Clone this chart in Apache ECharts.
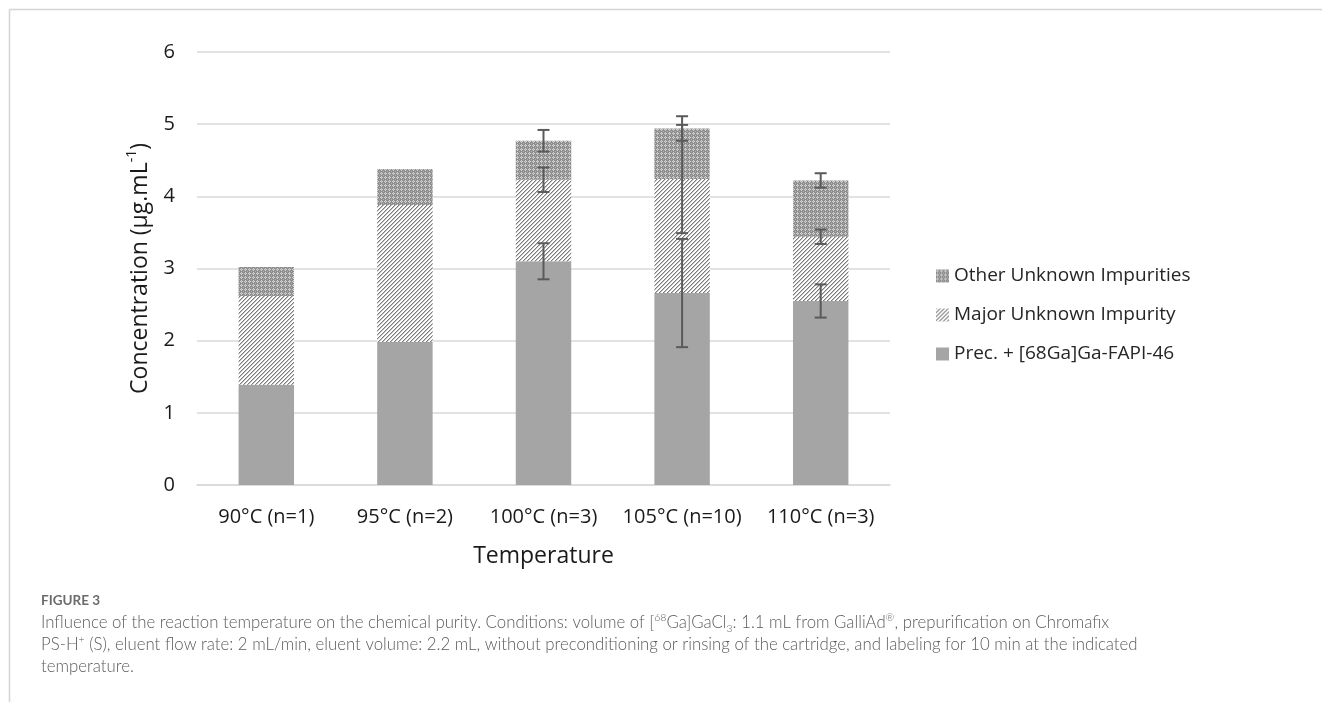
<!DOCTYPE html>
<html>
<head>
<meta charset="utf-8">
<script src="https://cdn.jsdelivr.net/npm/echarts@6/dist/echarts.min.js"></script>
<style>
html,body{margin:0;padding:0;background:#fff;}
#chart{width:1322px;height:702px;}
</style>
</head>
<body>
<div id="chart"></div>
<script>
// ---- data ----
const categories = ['90°C (n=1)', '95°C (n=2)', '100°C (n=3)', '105°C (n=10)', '110°C (n=3)'];
const seriesNames = ['Prec. + [68Ga]Ga-FAPI-46', 'Major Unknown Impurity', 'Other Unknown Impurities'];
const precValues  = [1.39, 1.98, 3.10, 2.66, 2.55];
const majorValues = [1.23, 1.90, 1.13, 1.58, 0.89];
const otherValues = [0.40, 0.50, 0.54, 0.70, 0.78];
const precErr  = [null, null, 0.25, 0.75, 0.23];
const majorErr = [null, null, 0.17, 0.75, 0.10];
const otherErr = [null, null, 0.15, 0.17, 0.10];
const yTicks = [0, 1, 2, 3, 4, 5, 6];

// ---- patterns ----
function makeTile(size, painter) {
  const c = document.createElement('canvas');
  c.width = size; c.height = size;
  const ctx = c.getContext('2d');
  painter(ctx, size);
  return c;
}
const hatchTile = makeTile(4, (ctx, n) => {
  ctx.fillStyle = '#ffffff'; ctx.fillRect(0, 0, n, n);
  for (let x = 0; x < n; x++) for (let y = 0; y < n; y++) {
    const k = (x + y) % 4;
    if (k === 3) { ctx.fillStyle = '#7a7a7a'; ctx.fillRect(x, y, 1, 1); }
    else if (k === 0) { ctx.fillStyle = '#c4c4c4'; ctx.fillRect(x, y, 1, 1); }
  }
});
const checkTile = makeTile(4, (ctx, n) => {
  const map = [
    'DLDD',
    'LMLD',
    'DLDD',
    'DDDM'
  ];
  const col = {D: '#8e8e8e', L: '#d2d2d2', M: '#b2b2b2'};
  for (let y = 0; y < n; y++) for (let x = 0; x < n; x++) {
    ctx.fillStyle = col[map[y][x]]; ctx.fillRect(x, y, 1, 1);
  }
});
const precColor = '#a5a5a5';
const hatchColor = {image: hatchTile, repeat: 'repeat'};
const checkColor = {image: checkTile, repeat: 'repeat'};

// ---- error bar data (built from arrays) ----
function errData(errs, stackedTops) {
  const out = [];
  errs.forEach((e, i) => {
    if (e !== null) out.push([i, stackedTops[i] - e, stackedTops[i] + e]);
  });
  return out;
}
const precTop = precValues.slice();
const majorTop = precValues.map((v, i) => v + majorValues[i]);
const otherTop = majorTop.map((v, i) => v + otherValues[i]);
const errorData = [].concat(
  errData(precErr, precTop),
  errData(majorErr, majorTop),
  errData(otherErr, otherTop)
);

const chart = echarts.init(document.getElementById('chart'), null, {renderer: 'canvas'});
const axisFont = "'Open Sans', 'Noto Sans', sans-serif";
const capFont = "Lato, 'Open Sans', sans-serif";

const option = {
  backgroundColor: '#ffffff',
  animation: false,
  grid: {left: 197, top: 52, width: 693, height: 433, outerBoundsMode: 'none', containLabel: false},
  legend: {
    orient: 'vertical',
    left: 931,
    top: 261,
    itemWidth: 13,
    itemHeight: 13,
    itemGap: 19,
    icon: 'rect',
    selectedMode: false,
    data: [seriesNames[2], seriesNames[1], seriesNames[0]],
    textStyle: {fontFamily: axisFont, fontSize: 19, color: '#262626', lineHeight: 20, padding: [0, 0, 0, 0]}
  },
  xAxis: {
    type: 'category',
    data: categories,
    name: 'Temperature',
    nameLocation: 'middle',
    nameGap: 60,
    nameTextStyle: {fontFamily: axisFont, fontSize: 23, color: '#1a1a1a'},
    axisLine: {lineStyle: {color: '#d9d9d9', width: 1.5}},
    axisTick: {show: false},
    axisLabel: {fontFamily: axisFont, fontSize: 20, color: '#1a1a1a', margin: 22, interval: 0, hideOverlap: false}
  },
  yAxis: {
    type: 'value',
    min: yTicks[0],
    max: yTicks[yTicks.length - 1],
    interval: 1,
    name: '{t|Concentration (µg.mL}{s|-1}{t|)}',
    nameLocation: 'middle',
    nameRotate: 90,
    nameGap: 42,
    nameTextStyle: {
      rich: {
        t: {fontFamily: axisFont, fontSize: 23, color: '#1a1a1a', lineHeight: 30},
        s: {fontFamily: axisFont, fontSize: 14, color: '#1a1a1a', lineHeight: 14, verticalAlign: 'top'}
      }
    },
    axisLine: {show: false},
    axisTick: {show: false},
    splitLine: {lineStyle: {color: '#d9d9d9', width: 1.5}},
    axisLabel: {fontFamily: axisFont, fontSize: 20, color: '#1a1a1a', margin: 22}
  },
  series: [
    {name: seriesNames[0], type: 'bar', stack: 'total', barWidth: '40%', data: precValues,
     itemStyle: {color: precColor}},
    {name: seriesNames[1], type: 'bar', stack: 'total', barWidth: '40%', data: majorValues,
     itemStyle: {color: hatchColor}},
    {name: seriesNames[2], type: 'bar', stack: 'total', barWidth: '40%', data: otherValues,
     itemStyle: {color: checkColor}},
    {
      name: 'error', type: 'custom', z: 10,
      data: errorData,
      encode: {x: 0, y: [1, 2]},
      renderItem: function (params, api) {
        const lo = api.coord([api.value(0), api.value(1)]);
        const hi = api.coord([api.value(0), api.value(2)]);
        const hw = 6;
        const st = {stroke: '#5a5a5a', lineWidth: 2};
        return {
          type: 'group',
          children: [
            {type: 'line', shape: {x1: lo[0], y1: lo[1], x2: hi[0], y2: hi[1]}, style: st},
            {type: 'line', shape: {x1: lo[0] - hw, y1: lo[1], x2: lo[0] + hw, y2: lo[1]}, style: st},
            {type: 'line', shape: {x1: hi[0] - hw, y1: hi[1], x2: hi[0] + hw, y2: hi[1]}, style: st}
          ]
        };
      }
    }
  ],
  graphic: [
    {type: 'line', shape: {x1: 9.5, y1: 9.5, x2: 1322, y2: 9.5}, style: {stroke: '#d4d4d4', lineWidth: 1.5}},
    {type: 'line', shape: {x1: 9.5, y1: 9.5, x2: 9.5, y2: 702}, style: {stroke: '#d4d4d4', lineWidth: 1.5}},
    {type: 'text', left: 41, top: 594,
     style: {text: 'FIGURE 3', fontFamily: capFont, fontSize: 13.5, fontWeight: 'bold', fill: '#6b6b6b'}},
    {type: 'text', left: 41, top: 612,
     style: {
       text: '{n|Influence of the reaction temperature on the chemical purity. Conditions: volume of [}{p|68}{n|Ga]GaCl}{b|3}{n|: 1.1 mL from GalliAd}{p|®}{n|, prepurification on Chromafix}\n' +
             '{n|PS-H}{p|+}{n| (S), eluent flow rate: 2 mL/min, eluent volume: 2.2 mL, without preconditioning or rinsing of the cartridge, and labeling for 10 min at the indicated}\n' +
             '{n|temperature.}',
       rich: {
         n: {fontFamily: capFont, fontSize: 16.8, fontWeight: 300, fill: '#5c5c5c', lineHeight: 22},
         p: {fontFamily: capFont, fontSize: 10.5, fontWeight: 300, fill: '#5c5c5c', lineHeight: 12, verticalAlign: 'top'},
         b: {fontFamily: capFont, fontSize: 10.5, fontWeight: 300, fill: '#5c5c5c', lineHeight: 12, verticalAlign: 'bottom'}
       }
     }}
  ]
};
chart.setOption(option);
</script>
</body>
</html>
